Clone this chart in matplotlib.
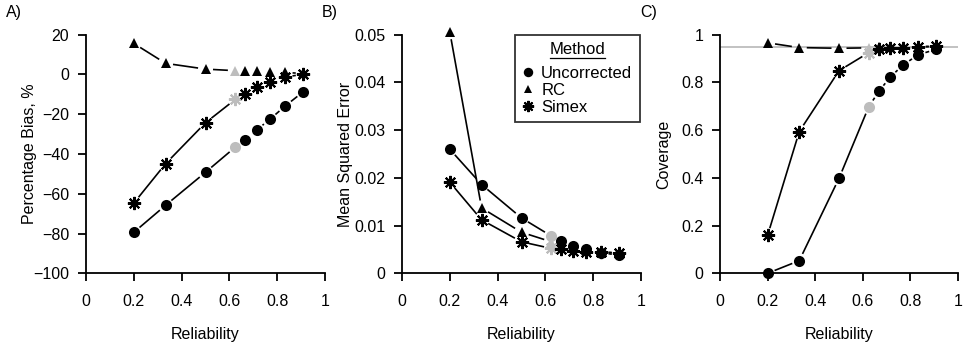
import numpy as np
import matplotlib
matplotlib.use('Agg')
from matplotlib import pyplot as plt
from matplotlib.lines import Line2D

plt.rcParams['font.family'] = ['Liberation Sans', 'DejaVu Sans']

# reliability values (x axis), same for all panels
reliability = [0.2, 0.333, 0.5, 0.625, 0.667, 0.714, 0.769, 0.833, 0.909]
grey_idx = 3  # highlighted point

# A) percentage bias
bias_unc = [-79.4, -65.8, -49.2, -36.5, -32.8, -27.9, -22.6, -15.9, -8.7]
bias_rc = [15.6, 5.6, 2.7, 1.9, 1.7, 1.5, 1.2, 1.0, 0.5]
bias_simex = [-64.7, -44.9, -24.3, -12.5, -9.8, -6.5, -3.6, -1.3, 0.1]

# B) mean squared error
mse_unc = [0.0260, 0.0186, 0.0116, 0.0078, 0.0068, 0.0058, 0.0050, 0.0043, 0.0038]
mse_rc = [0.0506, 0.0137, 0.0086, 0.0066, 0.0060, 0.0054, 0.0049, 0.0045, 0.0042]
mse_simex = [0.0191, 0.0112, 0.0066, 0.0052, 0.0050, 0.0047, 0.0045, 0.0044, 0.0043]

# C) coverage
cov_unc = [0.0, 0.053, 0.398, 0.698, 0.762, 0.821, 0.873, 0.916, 0.939]
cov_rc = [0.966, 0.946, 0.943, 0.945, 0.947, 0.948, 0.948, 0.949, 0.950]
cov_simex = [0.159, 0.594, 0.849, 0.925, 0.940, 0.943, 0.946, 0.950, 0.952]
nominal = 0.95

methods = ['Uncorrected', 'RC', 'Simex']
GREY = '#bdbdbd'
FS = 11.5
markers = {'Uncorrected': dict(marker='o', ms=8, mew=0),
           'RC': dict(marker='^', ms=7.5, mew=0),
           'Simex': dict(marker=(8, 2, 0), ms=9.5, mew=1.5)}

fig = plt.figure(figsize=(9.63, 3.47), dpi=100)
W, H = 963.0, 347.0
boxes = [(86, 325), (402, 641), (720, 958)]
top, bottom = 34.7, 273.3


def gapped(ax, x, y, gap=7.5):
    # R type="b": lines between points, leaving a gap around each point
    pts = ax.transData.transform(np.column_stack([x, y]))
    inv = ax.transData.inverted()
    for p, q in zip(pts[:-1], pts[1:]):
        d = q - p
        L = np.hypot(d[0], d[1])
        if L <= 2 * gap + 1:
            continue
        u = d / L
        seg = inv.transform(np.array([p + u * gap, q - u * gap]))
        ax.plot(seg[:, 0], seg[:, 1], color='black', lw=1.2, clip_on=False,
                solid_capstyle='butt')


def pts(ax, x, y, m):
    for i, (xi, yi) in enumerate(zip(x, y)):
        c = GREY if i == grey_idx else 'black'
        ax.plot(xi, yi, linestyle='none', color=c, mfc=c, mec=c,
                clip_on=False, zorder=3, **markers[m])


panels = [
    ('A)', [bias_unc, bias_rc, bias_simex], (-100, 20), np.arange(-100, 21, 20),
     'Percentage Bias, %'),
    ('B)', [mse_unc, mse_rc, mse_simex], (0, 0.05), np.arange(0, 0.051, 0.01),
     'Mean Squared Error'),
    ('C)', [cov_unc, cov_rc, cov_simex], (0, 1), np.arange(0, 1.01, 0.2),
     'Coverage'),
]

axes = []
for (lab, series, ylim, yt, ylab), (l, r) in zip(panels, boxes):
    ax = fig.add_axes([l / W, 1 - bottom / H, (r - l) / W, (bottom - top) / H])
    axes.append(ax)
    ax.set_xlim(0, 1)
    ax.set_ylim(*ylim)
    for s in ['top', 'right']:
        ax.spines[s].set_visible(False)
    for s in ['left', 'bottom']:
        ax.spines[s].set_linewidth(1.3)
    ax.set_xticks(np.arange(0, 1.01, 0.2))
    ax.set_xticklabels(['0', '0.2', '0.4', '0.6', '0.8', '1'])
    ax.set_yticks(yt)
    if lab == 'A)':
        ax.set_yticklabels(['\u2212%d' % -v if v < 0 else '%d' % v for v in yt])
    elif lab == 'B)':
        ax.set_yticklabels(['0', '0.01', '0.02', '0.03', '0.04', '0.05'])
    else:
        ax.set_yticklabels(['0', '0.2', '0.4', '0.6', '0.8', '1'])
    ax.tick_params(direction='out', length=6, width=1.3, labelsize=FS, pad=6)
    ax.tick_params(axis='x', pad=9)
    ax.set_xlabel('Reliability', fontsize=FS)
    ax.xaxis.set_label_coords(0.5, -0.225)
    ax.set_ylabel(ylab, fontsize=FS)
    ax.yaxis.set_label_coords(-0.205, 0.5)
    fig.text((l - 80) / W, 1 - 12 / H, lab, fontsize=FS, va='center', ha='left')
    if lab == 'C)':
        ax.axhline(nominal, color=GREY, lw=1.3, zorder=1)

fig.canvas.draw()
for (lab, series, ylim, yt, ylab), ax in zip(panels, axes):
    for s, m in zip(series, methods):
        gapped(ax, reliability, s)
        pts(ax, reliability, s, m)

# legend in panel B
handles = [Line2D([], [], linestyle='none', color='black', **markers[m]) for m in methods]
for h in handles:
    h.set_markersize(h.get_markersize() * 0.85)
leg = axes[1].legend(handles, methods, title='Method', loc='upper right',
                     bbox_to_anchor=(0.995, 1.0), fontsize=FS + 0.5, title_fontsize=FS + 0.5,
                     frameon=True, fancybox=False, edgecolor='black',
                     handlelength=0.6, handletextpad=0.5, borderpad=0.45,
                     labelspacing=0.12, borderaxespad=0.0)
leg.get_frame().set_linewidth(1.3)
leg._legend_box.sep = 6
fig.canvas.draw()
tb = leg.get_title().get_window_extent()
fig.add_artist(Line2D([tb.x0 / W, tb.x1 / W], [(tb.y0 - 1) / H, (tb.y0 - 1) / H],
                      color='black', lw=0.9))

fig.savefig('out.png', dpi=100)
